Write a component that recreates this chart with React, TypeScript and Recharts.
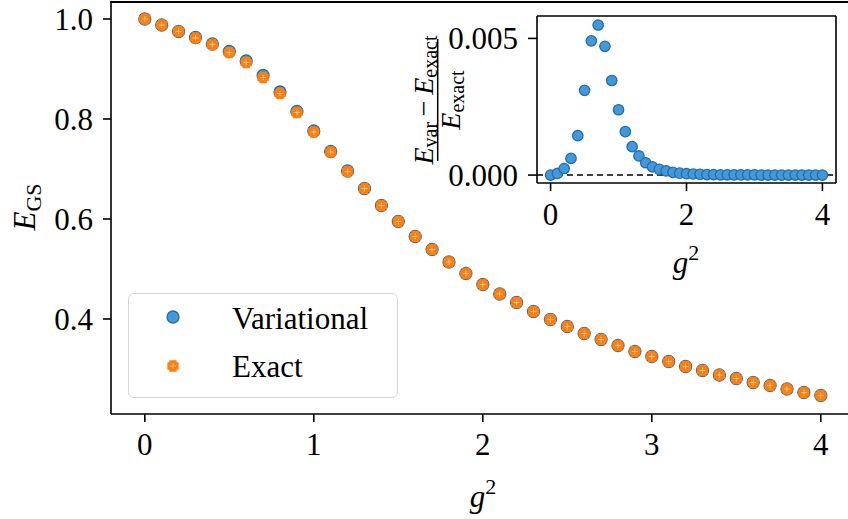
import { ScatterChart, Scatter, XAxis, YAxis, Legend, ReferenceLine, CartesianGrid } from 'recharts';

const gSquared = [
	0.0, 0.1, 0.2, 0.3, 0.4, 0.5, 0.6, 0.7, 0.8, 0.9, 1.0, 1.1, 1.2, 1.3, 1.4, 1.5, 1.6, 1.7, 1.8, 1.9, 2.0,
	2.1, 2.2, 2.3, 2.4, 2.5, 2.6, 2.7, 2.8, 2.9, 3.0, 3.1, 3.2, 3.3, 3.4, 3.5, 3.6, 3.7, 3.8, 3.9, 4.0,
];
const exactEnergy = [
	1.0, 0.988, 0.975, 0.962, 0.949, 0.933, 0.913, 0.883, 0.851, 0.813, 0.774, 0.734, 0.695, 0.661, 0.627,
	0.595, 0.565, 0.539, 0.514, 0.491, 0.469, 0.45, 0.433, 0.415, 0.399, 0.385, 0.371, 0.359, 0.347, 0.335,
	0.325, 0.315, 0.305, 0.297, 0.288, 0.281, 0.273, 0.267, 0.26, 0.253, 0.247,
];
const variationalEnergy = [
	1.0, 0.988, 0.975, 0.963, 0.95, 0.935, 0.916, 0.887, 0.854, 0.815, 0.776, 0.735, 0.696, 0.661, 0.627,
	0.595, 0.565, 0.539, 0.514, 0.491, 0.469, 0.45, 0.433, 0.415, 0.399, 0.385, 0.371, 0.359, 0.347, 0.335,
	0.325, 0.315, 0.305, 0.297, 0.288, 0.281, 0.273, 0.267, 0.26, 0.253, 0.247,
];
const relativeError = [
	0.0, 0.00006, 0.00024, 0.00061, 0.00144, 0.0031, 0.00491, 0.00549, 0.00471, 0.00346, 0.00239, 0.00159,
	0.00104, 0.0007, 0.00045, 0.0003, 0.00021, 0.00015, 0.0001, 0.00007, 0.00005, 0.00004, 0.00003, 0.00002,
	0.00002, 0.00001, 0.00001, 0.00001, 0.00001, 0.00001, 0.00001, 0.0, 0.0, 0.0, 0.0, 0.0, 0.0, 0.0, 0.0, 0.0,
	0.0,
];
const mainXTicks = [0, 1, 2, 3, 4];
const mainYTicks = [0.4, 0.6, 0.8, 1.0];
const insetXTicks = [0, 2, 4];
const insetYTicks = [0, 0.005];

const MAIN_X_DOMAIN = [-0.2, 4.161];
const MAIN_Y_DOMAIN = [0.21, 1.034];
const INSET_X_DOMAIN = [-0.2, 4.2];
const INSET_Y_DOMAIN = [-0.00029, 0.00582];

const WIDTH = 848;
const HEIGHT = 519;
const MAIN_LEFT = 111;
const FONT = "'Liberation Serif', 'DejaVu Serif', serif";
const BLUE_FILL = '#4598d8';
const BLUE_EDGE = '#1f6eb0';
const ORANGE = '#ff7f0e';

const variationalData = gSquared.map((g, i) => ({ g, e: variationalEnergy[i] }));
const exactData = gSquared.map((g, i) => ({ g, e: exactEnergy[i] }));
const errorData = gSquared.map((g, i) => ({ g, err: relativeError[i] }));

const axisStroke = { stroke: '#000', strokeWidth: 1.6 };
const tickStyle = { fill: '#000', fontSize: 31, fontFamily: FONT };

function BlueDot({ cx, cy, r = 6 }: { cx?: number; cy?: number; r?: number }) {
	if (cx == null || cy == null) return null;
	return <circle cx={cx} cy={cy} r={r} fill={BLUE_FILL} stroke={BLUE_EDGE} strokeWidth={1.3} />;
}

function OrangePlus({ cx, cy }: { cx?: number; cy?: number }) {
	if (cx == null || cy == null) return null;
	const a = 4.9;
	const w = 3;
	const d = `M${cx - w},${cy - a}H${cx + w}V${cy - w}H${cx + a}V${cy + w}H${cx + w}V${cy + a}H${cx - w}V${cy + w}H${cx - a}V${cy - w}H${cx - w}Z`;
	return (
		<g>
			<path d={d} fill={ORANGE} stroke={ORANGE} strokeWidth={1.5} strokeLinejoin='round' />
			<path
				d={`M${cx - 3},${cy}H${cx + 3}M${cx},${cy - 3}V${cy + 3}`}
				stroke='#ffc48a'
				strokeWidth={0.9}
			/>
		</g>
	);
}

function LegendBox() {
	return (
		<div
			style={{
				width: 270,
				height: 105,
				boxSizing: 'border-box',
				border: '1.5px solid #d6d6d6',
				borderRadius: 6,
				background: 'rgba(255,255,255,0.8)',
			}}
		>
			<svg width={267} height={102} style={{ display: 'block' }}>
				<BlueDot cx={44} cy={23} r={6} />
				<OrangePlus cx={44} cy={72} />
				<text x={103} y={35} fontSize={31} fontFamily={FONT} fill='#000'>
					Variational
				</text>
				<text x={103} y={83} fontSize={31} fontFamily={FONT} fill='#000'>
					Exact
				</text>
			</svg>
		</div>
	);
}

function MainXLabel() {
	return (
		<text x={483} y={507} textAnchor='middle' fontFamily={FONT} fontSize={31} fill='#000'>
			<tspan fontStyle='italic'>g</tspan>
			<tspan fontSize={22} dy={-13}>
				2
			</tspan>
		</text>
	);
}

function MainYLabel() {
	return (
		<g transform='translate(35,207) rotate(-90)'>
			<text x={0} y={0} textAnchor='middle' fontFamily={FONT} fontSize={31} fill='#000'>
				<tspan fontStyle='italic'>E</tspan>
				<tspan fontSize={22} dy={6}>
					GS
				</tspan>
			</text>
		</g>
	);
}

function InsetXLabel() {
	return (
		<text x={686} y={273} textAnchor='middle' fontFamily={FONT} fontSize={31} fill='#000'>
			<tspan fontStyle='italic'>g</tspan>
			<tspan fontSize={22} dy={-13}>
				2
			</tspan>
		</text>
	);
}

function InsetYLabel() {
	return (
		<g transform='translate(437.7,100) rotate(-90)' fontFamily={FONT} fill='#000'>
			<text x={0} y={-5} textAnchor='middle' fontSize={28}>
				<tspan fontStyle='italic'>E</tspan>
				<tspan fontSize={20} dy={4}>
					var
				</tspan>
				<tspan dy={-4}>{'\u2009\u2212\u2009'}</tspan>
				<tspan fontStyle='italic'>E</tspan>
				<tspan fontSize={20} dy={4}>
					exact
				</tspan>
			</text>
			<line x1={-61} y1={0} x2={61} y2={0} stroke='#000' strokeWidth={1.5} />
			<text x={0} y={22} textAnchor='middle' fontSize={28}>
				<tspan fontStyle='italic'>E</tspan>
				<tspan fontSize={20} dy={4}>
					exact
				</tspan>
			</text>
		</g>
	);
}

export default function App() {
	return (
		<div style={{ position: 'absolute', left: 0, top: 0, width: WIDTH, height: HEIGHT, background: '#fff' }}>
			<ScatterChart width={WIDTH} height={HEIGHT} margin={{ top: 2, right: 0, bottom: 0, left: 0 }}>
				<XAxis
					dataKey='g'
					type='number'
					domain={MAIN_X_DOMAIN}
					allowDataOverflow
					ticks={mainXTicks}
					height={105}
					axisLine={axisStroke}
					tickLine={axisStroke}
					tickSize={8}
					tickMargin={11}
					tick={tickStyle}
					label={{ content: () => <MainXLabel /> }}
				/>
				<YAxis
					dataKey='e'
					type='number'
					domain={MAIN_Y_DOMAIN}
					allowDataOverflow
					ticks={mainYTicks}
					width={MAIN_LEFT}
					axisLine={axisStroke}
					tickLine={axisStroke}
					tickSize={8}
					tickMargin={10}
					tick={tickStyle}
					tickFormatter={(v: number) => v.toFixed(1)}
					label={{ content: () => <MainYLabel /> }}
				/>
				<Legend
					layout='vertical'
					align='center'
					verticalAlign='middle'
					content={() => <LegendBox />}
					wrapperStyle={{ position: 'absolute', left: 128, top: 293, width: 270, height: 105 }}
				/>
				<Scatter
					name='Variational'
					data={variationalData}
					isAnimationActive={false}
					shape={(p: any) => <BlueDot cx={p.cx} cy={p.cy} r={6} />}
				/>
				<Scatter
					name='Exact'
					data={exactData}
					isAnimationActive={false}
					shape={(p: any) => <OrangePlus cx={p.cx} cy={p.cy} />}
				/>
			</ScatterChart>

			<div style={{ position: 'absolute', left: 0, top: 0 }}>
				<ScatterChart width={WIDTH} height={290} margin={{ top: 16, right: 12, bottom: 0, left: 0 }}>
					<CartesianGrid horizontal={false} vertical={false} fill='#fff' />
					<XAxis
						dataKey='g'
						type='number'
						domain={INSET_X_DOMAIN}
						allowDataOverflow
						ticks={insetXTicks}
						height={107}
						axisLine={axisStroke}
						tickLine={axisStroke}
						tickSize={8}
						tickMargin={12}
						tick={tickStyle}
						label={{ content: () => <InsetXLabel /> }}
					/>
					<YAxis
						dataKey='err'
						type='number'
						domain={INSET_Y_DOMAIN}
						allowDataOverflow
						ticks={insetYTicks}
						width={537}
						axisLine={axisStroke}
						tickLine={axisStroke}
						tickSize={9}
						tickMargin={10}
						tick={tickStyle}
						tickFormatter={(v: number) => v.toFixed(3)}
						label={{ content: () => <InsetYLabel /> }}
					/>
					<ReferenceLine y={INSET_Y_DOMAIN[1]} stroke='#000' strokeWidth={1.6} ifOverflow='extendDomain' />
					<ReferenceLine x={INSET_X_DOMAIN[1]} stroke='#000' strokeWidth={1.6} ifOverflow='extendDomain' />
					<ReferenceLine y={0} stroke='#000' strokeWidth={1.5} strokeDasharray='6 4' />
					<Scatter
						name='Relative error'
						data={errorData}
						isAnimationActive={false}
						shape={(p: any) => <BlueDot cx={p.cx} cy={p.cy} r={5.2} />}
					/>
				</ScatterChart>
			</div>

			{/* top spine of the main axes */}
			<div
				style={{
					position: 'absolute',
					left: MAIN_LEFT - 1,
					top: 1,
					width: WIDTH - MAIN_LEFT + 1,
					height: 2,
					background: '#000',
				}}
			/>
		</div>
	);
}
